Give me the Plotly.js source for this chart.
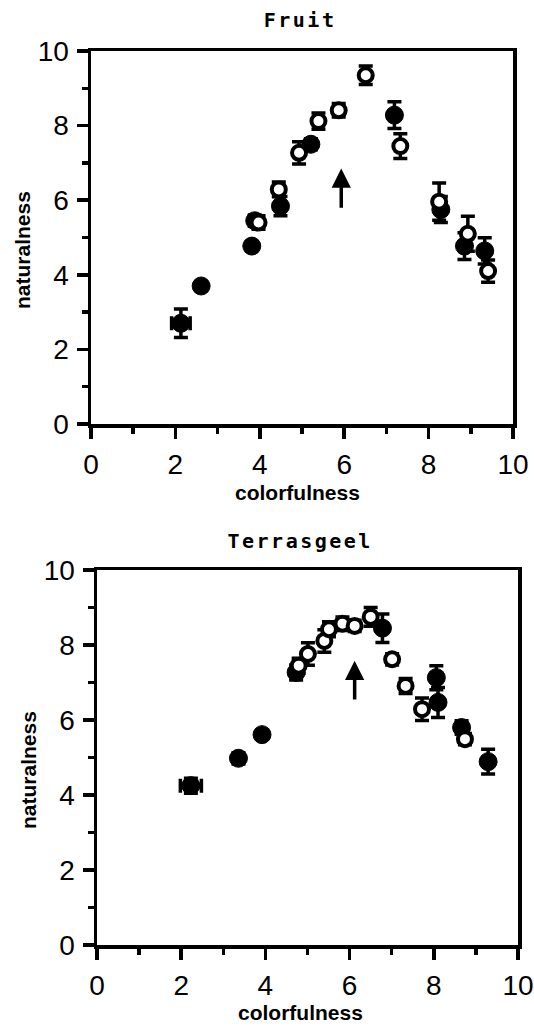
<!DOCTYPE html>
<html>
<head>
<meta charset="utf-8">
<script src="https://cdn.plot.ly/plotly-3.0.1.min.js"></script>
<style>
html,body{margin:0;padding:0;background:#fff;}
#chart{width:534px;height:1030px;}
</style>
</head>
<body>
<div id="chart"></div>
<script>
// ---- Fruit panel ----
const fruitFilledX   = [2.13, 2.61, 3.81, 3.88, 4.49, 5.21, 7.19, 8.29, 8.85, 9.33];
const fruitFilledY   = [2.70, 3.70, 4.77, 5.45, 5.84, 7.50, 8.28, 5.75, 4.77, 4.64];
const fruitFilledErr = [0.38, 0.12, 0.12, 0.15, 0.26, 0.15, 0.36, 0.35, 0.36, 0.35];
const fruitFilledXErr= [0.22, 0, 0, 0, 0, 0, 0, 0, 0, 0];
const fruitOpenX     = [3.97, 4.45, 4.93, 5.39, 5.87, 6.51, 7.33, 8.25, 8.93, 9.41];
const fruitOpenY     = [5.40, 6.29, 7.27, 8.12, 8.41, 9.35, 7.45, 5.96, 5.10, 4.10];
const fruitOpenErr   = [0.18, 0.20, 0.30, 0.22, 0.18, 0.25, 0.33, 0.50, 0.47, 0.30];
const fruitArrowX    = [5.93, 5.93];   // tail, head
const fruitArrowY    = [5.76, 6.85];

// ---- Terrasgeel panel ----
const terFilledX   = [2.23, 3.36, 3.92, 4.73, 6.78, 8.06, 8.10, 8.66, 9.29];
const terFilledY   = [4.25, 4.98, 5.61, 7.27, 8.45, 7.13, 6.47, 5.80, 4.89];
const terFilledErr = [0.20, 0.15, 0.12, 0.20, 0.38, 0.32, 0.40, 0.18, 0.33];
const terFilledXErr= [0.25, 0, 0, 0, 0, 0, 0, 0, 0];
const terOpenX     = [4.79, 5.01, 5.40, 5.51, 5.83, 6.12, 6.50, 7.01, 7.33, 7.72, 8.74];
const terOpenY     = [7.45, 7.76, 8.11, 8.42, 8.57, 8.51, 8.75, 7.62, 6.91, 6.29, 5.49];
const terOpenErr   = [0.20, 0.30, 0.30, 0.20, 0.18, 0.15, 0.25, 0.15, 0.20, 0.30, 0.15];
const terArrowX    = [6.12, 6.12];
const terArrowY    = [6.51, 7.58];

const panelTitles = ['Fruit', 'Terrasgeel'];
const xTitle = 'colorfulness';
const yTitle = 'naturalness';
const tickVals = [0, 2, 4, 6, 8, 10];
const tickText = ['0', '2', '4', '6', '8', '10'];

const errStyle = {type:'data', visible:true, color:'black', thickness:3.5, width:7};
function filled(x, y, e, xe, xa, ya) {
  return {x:x, y:y, xaxis:xa, yaxis:ya, type:'scatter', mode:'markers', hoverinfo:'skip',
    marker:{symbol:'circle', size:18, color:'black', line:{color:'black', width:1}},
    error_y:Object.assign({array:e}, errStyle),
    error_x:Object.assign({array:xe}, errStyle)};
}
function open(x, y, e, xa, ya) {
  return {x:x, y:y, xaxis:xa, yaxis:ya, type:'scatter', mode:'markers', hoverinfo:'skip',
    marker:{symbol:'circle', size:14, color:'white', line:{color:'black', width:4}},
    error_y:Object.assign({array:e}, errStyle)};
}

const data = [
  filled(fruitFilledX, fruitFilledY, fruitFilledErr, fruitFilledXErr, 'x', 'y'),
  open(fruitOpenX, fruitOpenY, fruitOpenErr, 'x', 'y'),
  filled(terFilledX, terFilledY, terFilledErr, terFilledXErr, 'x2', 'y2'),
  open(terOpenX, terOpenY, terOpenErr, 'x2', 'y2')
];

const tickFont = {family:'Liberation Sans, Arial, sans-serif', size:28, color:'black'};
function axis(domain, anchor) {
  return {domain:domain, anchor:anchor, range:[0,10], tickmode:'array', tickvals:tickVals, ticktext:tickText,
    ticks:'outside', ticklen:11, tickwidth:3.5, tickcolor:'black',
    minor:{tickmode:'linear', tick0:0, dtick:1, ticks:'outside', ticklen:6, tickwidth:3.5, tickcolor:'black', showgrid:false},
    showline:true, linewidth:3.5, linecolor:'black', mirror:true,
    showgrid:false, zeroline:false, fixedrange:true, automargin:false,
    tickfont:tickFont, ticklabelstandoff:2};
}

const W = 534, H = 1030;
const px = v => v / W, py = v => 1 - v / H;
const labFont = {family:'Liberation Sans, Arial, sans-serif', size:21, color:'black', weight:'bold'};
const ttlFont = {family:'DejaVu Sans Mono, monospace', size:20, color:'black', weight:'bold'};

function arrow(ax, ay, xr, yr) {
  return {x:ax[1], y:ay[1], ax:ax[0], ay:ay[0], xref:xr, yref:yr, axref:xr, ayref:yr,
    text:'', showarrow:true, arrowhead:2, arrowsize:1.1, arrowwidth:3.5, arrowcolor:'black'};
}

const layout = {
  width:W, height:H, margin:{l:0, r:0, t:0, b:0},
  paper_bgcolor:'white', plot_bgcolor:'white', showlegend:false,
  xaxis:axis([px(91), px(513)], 'y'),
  yaxis:axis([py(424), py(51)], 'x'),
  xaxis2:axis([px(97), px(518)], 'y2'),
  yaxis2:axis([py(945), py(570)], 'x2'),
  annotations:[
    {text:panelTitles[0], xref:'paper', yref:'paper', x:px(300), y:py(20), xanchor:'center', yanchor:'middle', showarrow:false, font:ttlFont},
    {text:panelTitles[1], xref:'paper', yref:'paper', x:px(300), y:py(541), xanchor:'center', yanchor:'middle', showarrow:false, font:ttlFont},
    {text:xTitle, xref:'paper', yref:'paper', x:px(297), y:py(492), xanchor:'center', yanchor:'middle', showarrow:false, font:labFont},
    {text:xTitle, xref:'paper', yref:'paper', x:px(300), y:py(1012), xanchor:'center', yanchor:'middle', showarrow:false, font:labFont},
    {text:yTitle, xref:'paper', yref:'paper', x:px(22), y:py(250), xanchor:'center', yanchor:'middle', textangle:-90, showarrow:false, font:labFont},
    {text:yTitle, xref:'paper', yref:'paper', x:px(28), y:py(770), xanchor:'center', yanchor:'middle', textangle:-90, showarrow:false, font:labFont},
    arrow(fruitArrowX, fruitArrowY, 'x', 'y'),
    arrow(terArrowX, terArrowY, 'x2', 'y2')
  ]
};

Plotly.newPlot('chart', data, layout, {staticPlot:true, displayModeBar:false}).then(function(gd){
  gd.querySelectorAll('.annotation-text').forEach(function(t){
    if (t.textContent === panelTitles[0] || t.textContent === panelTitles[1]) {
      t.style.letterSpacing = '2.5px';
    }
  });
});
</script>
</body>
</html>
